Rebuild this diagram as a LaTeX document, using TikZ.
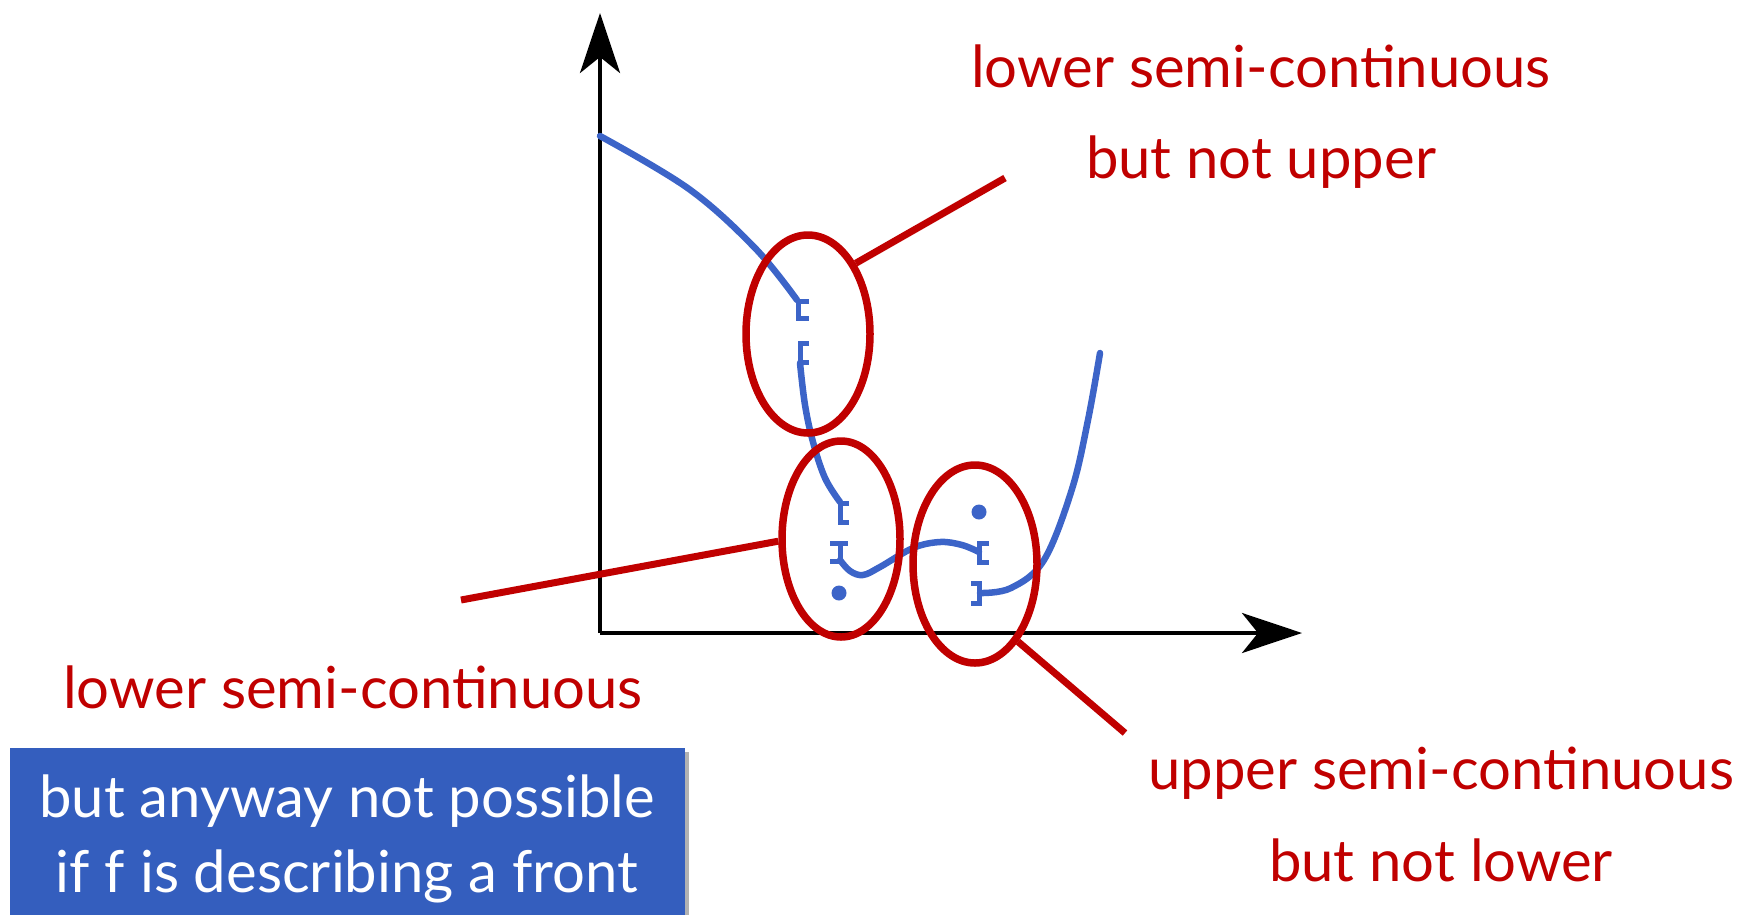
\documentclass[tikz,border=0pt]{standalone}
\usepackage{fontspec}
\setmainfont{Lato}
\usetikzlibrary{shapes.geometric,arrows.meta}
\definecolor{cred}{RGB}{192,0,0}
\definecolor{cblue}{RGB}{60,100,200}
\definecolor{boxblue}{RGB}{52,94,190}
\tikzset{
  axisline/.style={line width=4pt,-{Stealth[length=60pt,width=40pt,inset=16pt]}},
  fcurve/.style={cblue,line width=6.5pt,line cap=round,line join=round},
  brk/.style={cblue,line width=5pt},
  ring/.style={draw=cred,line width=7.5pt,ellipse,inner sep=0pt},
  pointer/.style={cred,line width=7pt},
  lbl/.style={text=cred,font=\fontsize{58}{70}\selectfont,anchor=base,inner sep=0pt},
  boxtxt/.style={text=white,font=\fontsize{58}{70}\selectfont,anchor=base,inner sep=0pt},
  dot/.style={circle,fill=cblue,minimum size=15pt,inner sep=0pt},
}
\begin{document}
\begin{tikzpicture}[x=1pt,y=-1pt]
\useasboundingbox (0,0) rectangle (1742,914);
% axes
\coordinate (O) at (600,633);
\coordinate (ytip) at (600,13);
\coordinate (xtip) at (1302,633);
\draw[axisline] (O) -- (ytip);
\draw[axisline] (O) -- (xtip);
% curve segments
\draw[fcurve] plot[smooth,tension=0.6] coordinates {(600,136) (689,189) (755,248) (797,300)};
\draw[fcurve] plot[smooth,tension=0.6] coordinates {(800,363) (805,405) (813,442) (825,478) (840,502)};
\draw[fcurve] plot[smooth,tension=0.6] coordinates {(840,560) (850,571) (863,575) (880,567) (913,548) (940,542) (962,545) (979,552)};
\draw[fcurve] plot[smooth,tension=0.6] coordinates {(980,593) (1011,588) (1044,560) (1072,489) (1088,420) (1100,353)};
% brackets
\draw[brk] (809,301) -- (798,301) -- (798,318) -- (809,318);
\draw[brk] (809,343) -- (800,343) -- (800,362) -- (809,362);
\draw[brk] (849,503) -- (840,503) -- (840,522) -- (849,522);
\draw[brk] (830,543) -- (848,543) (840,543) -- (840,561) -- (830,561);
\draw[brk] (989,543) -- (979,543) -- (979,562) -- (989,562);
\draw[brk] (971,583) -- (979,583) -- (979,603) -- (971,603);
% dots
\node[dot] (d1) at (839,593) {};
\node[dot] (d2) at (979,512) {};
% ellipses
\node[ring,minimum width=124pt,minimum height=198pt] (e1) at (808,334) {};
\node[ring,minimum width=118pt,minimum height=196pt] (e2) at (841,539) {};
\node[ring,minimum width=124pt,minimum height=198pt] (e3) at (975,564) {};
% pointers
\coordinate (p1) at (1005,178);
\coordinate (p2) at (461,600);
\coordinate (p3) at (1125,733);
\draw[pointer] (e1.56) -- (p1);
\draw[pointer] (e2.182) -- (p2);
\draw[pointer] (e3.299) -- (p3);
% labels
\node[lbl] (t1a) at (1261,87) {lower semi-continuous};
\node[lbl] (t1b) at (1261,178) {but not upper};
\node[lbl] (t2) at (353,708) {lower semi-continuous};
\node[lbl] (t3a) at (1441,789) {upper semi-continuous};
\node[lbl] (t3b) at (1441,881) {but not lower};
% note box
\fill[black!30] (14,752) rectangle (689,920);
\node[fill=boxblue,minimum width=675pt,minimum height=172pt,anchor=north west,inner sep=0pt] (note) at (10,748) {};
\node[boxtxt] (n1) at (347,817) {but anyway not possible};
\node[boxtxt] (n2) at (347,892) {if f is describing a front};
\end{tikzpicture}
\end{document}
